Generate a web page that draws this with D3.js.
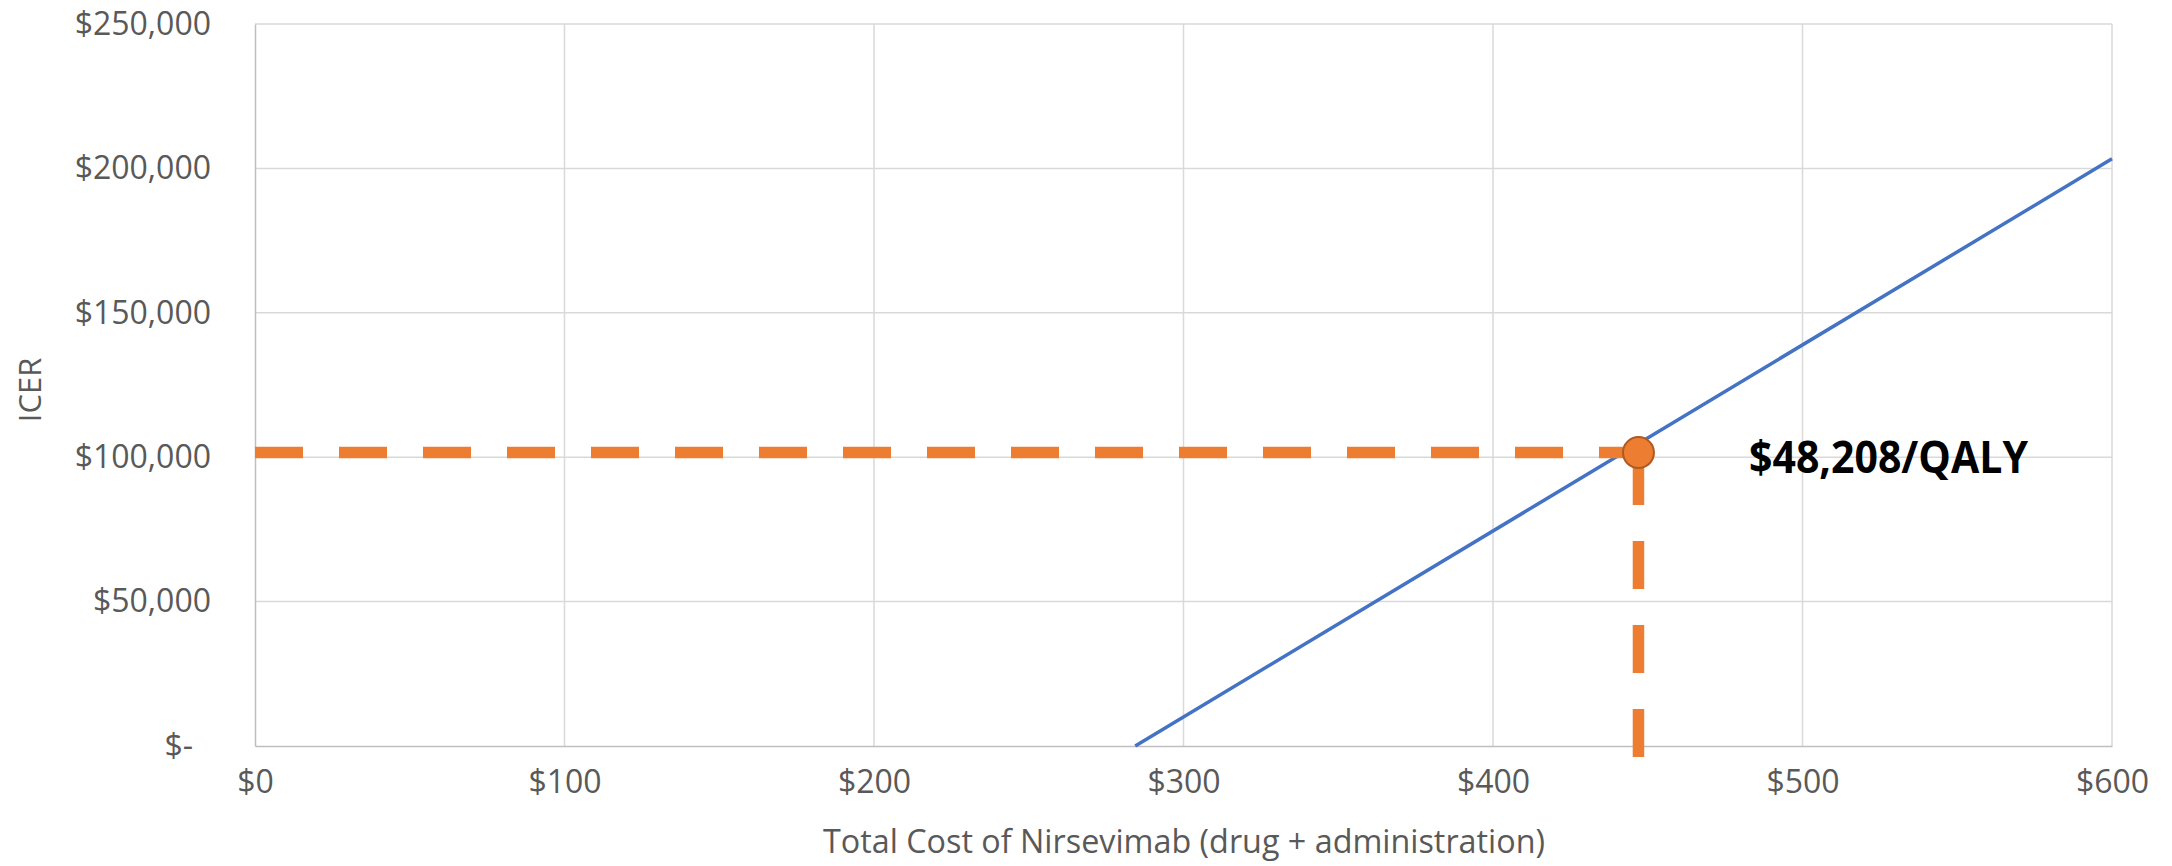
<!DOCTYPE html>
<html>
<head>
<meta charset="utf-8">
<script src="https://cdn.jsdelivr.net/npm/d3@7"></script>
<style>
  html, body { margin: 0; padding: 0; background: #ffffff; }
  svg { display: block; }
  text { font-family: "Open Sans", "Noto Sans", sans-serif; }
</style>
</head>
<body>
<svg id="chart" width="2172" height="866"></svg>
<script>
// ICER as a function of total nirsevimab cost
const costPoints = [284.4, 600];
const icerPoints = [0, 203300];

// Threshold point and its guide lines
const thresholdCost = 447;
const thresholdIcer = 101600;
const guideBottomIcer = -3800;
const thresholdLabel = "$48,208/QALY";

// Axis ticks
const xTicks = [0, 100, 200, 300, 400, 500, 600];
const yTicks = [0, 50000, 100000, 150000, 200000, 250000];
const xTitle = "Total Cost of Nirsevimab (drug + administration)";
const yTitle = "ICER";

const svg = d3.select("#chart");
const plot = { left: 255, right: 2112, top: 24, bottom: 746 };

const x = d3.scaleLinear().domain([0, 600]).range([plot.left, plot.right]);
const y = d3.scaleLinear().domain([0, 250000]).range([plot.bottom, plot.top]);

const fmtY = v => v === 0 ? "$-" : "$" + d3.format(",")(v);
const fmtX = v => "$" + v;

// Gridlines
svg.append("g")
  .selectAll("line.hgrid")
  .data(yTicks.filter(v => v !== 0))
  .join("line")
  .attr("x1", plot.left).attr("x2", plot.right)
  .attr("y1", d => y(d)).attr("y2", d => y(d))
  .attr("stroke", "#D9D9D9").attr("stroke-width", 1.5);

svg.append("g")
  .selectAll("line.vgrid")
  .data(xTicks.filter(v => v !== 0))
  .join("line")
  .attr("x1", d => x(d)).attr("x2", d => x(d))
  .attr("y1", plot.top).attr("y2", plot.bottom)
  .attr("stroke", "#D9D9D9").attr("stroke-width", 1.5);

// Axes
const yAxis = d3.axisLeft(y).tickValues(yTicks).tickFormat(fmtY).tickSize(0).tickPadding(44);
const gy = svg.append("g").attr("transform", `translate(${plot.left},0)`).call(yAxis);
gy.select(".domain").attr("stroke", "#BFBFBF").attr("stroke-width", 1.5);
gy.selectAll("text")
  .attr("fill", "#595959").attr("font-size", 32)
  .attr("dx", d => d === 0 ? -18 : 0);

const xAxis = d3.axisBottom(x).tickValues(xTicks).tickFormat(fmtX).tickSize(0).tickPadding(24);
const gx = svg.append("g").attr("transform", `translate(0,${plot.bottom})`).call(xAxis);
gx.select(".domain").attr("stroke", "#BFBFBF").attr("stroke-width", 1.5);
gx.selectAll("text").attr("fill", "#595959").attr("font-size", 32);

// Axis titles
svg.append("text")
  .attr("x", 1184).attr("y", 853)
  .attr("text-anchor", "middle")
  .attr("fill", "#595959").attr("font-size", 32)
  .attr("textLength", 722).attr("lengthAdjust", "spacingAndGlyphs")
  .text(xTitle);

svg.append("text")
  .attr("transform", `translate(41,390) rotate(-90)`)
  .attr("text-anchor", "middle")
  .attr("fill", "#595959").attr("font-size", 31)
  .text(yTitle);

// ICER line
const line = d3.line().x(d => x(d[0])).y(d => y(d[1]));
svg.append("path")
  .datum(d3.zip(costPoints, icerPoints))
  .attr("d", line)
  .attr("fill", "none")
  .attr("stroke", "#4472C4").attr("stroke-width", 3.5);

// Dashed guides to the threshold point
svg.append("path")
  .datum([[0, thresholdIcer], [thresholdCost, thresholdIcer]])
  .attr("d", line)
  .attr("fill", "none")
  .attr("stroke", "#ED7D31").attr("stroke-width", 11.5)
  .attr("stroke-dasharray", "48 36");

svg.append("path")
  .datum([[thresholdCost, guideBottomIcer], [thresholdCost, thresholdIcer]])
  .attr("d", line)
  .attr("fill", "none")
  .attr("stroke", "#ED7D31").attr("stroke-width", 11.5)
  .attr("stroke-dasharray", "48 36");

// Threshold marker
svg.append("circle")
  .attr("cx", x(thresholdCost)).attr("cy", y(thresholdIcer))
  .attr("r", 15.5)
  .attr("fill", "#ED7D31")
  .attr("stroke", "#AE5A21").attr("stroke-width", 2);

// Value label
svg.append("text")
  .attr("x", 1749).attr("y", 473)
  .attr("fill", "#000000").attr("font-size", 44).attr("font-weight", 700)
  .attr("textLength", 279).attr("lengthAdjust", "spacingAndGlyphs")
  .text(thresholdLabel);
</script>
</body>
</html>
